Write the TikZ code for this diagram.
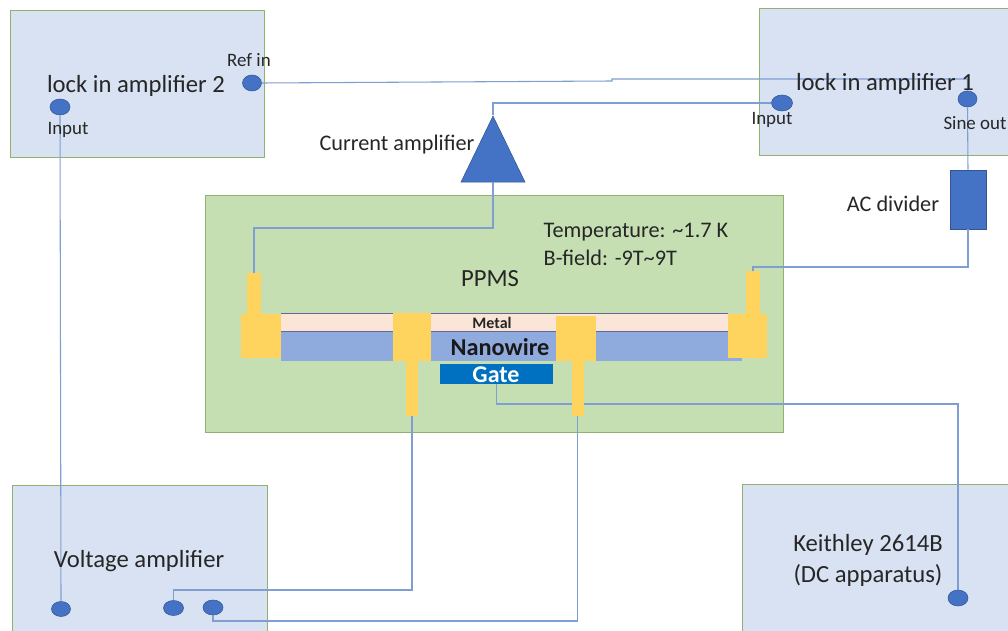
\documentclass[tikz,border=0pt]{standalone}
\usepackage{fontspec}
\setmainfont{Carlito}
\usetikzlibrary{shapes.geometric}
\definecolor{panelblue}{HTML}{D8E2F2}
\definecolor{panelline}{HTML}{8DB36F}
\definecolor{ppmsgreen}{HTML}{C5DFB3}
\definecolor{dotblue}{HTML}{4472C4}
\definecolor{wireblue}{HTML}{7F9FD2}
\definecolor{padyellow}{HTML}{FFD45E}
\definecolor{metalpink}{HTML}{FBE5D6}
\definecolor{barblue}{HTML}{8FAADC}
\definecolor{gateblue}{HTML}{0070C0}
\tikzset{
  panel/.style={draw=panelline,fill=panelblue,inner sep=0pt},
  dot/.style={ellipse,draw=dotblue!75!black,fill=dotblue,inner sep=0pt},
  wire/.style={draw=wireblue,line width=.8pt},
  pad/.style={fill=padyellow,inner sep=0pt},
  big/.style={font=\fontsize{18.5}{22}\selectfont,text=black!85},
  mid/.style={font=\fontsize{16.7}{20}\selectfont,text=black!85},
  tiny/.style={font=\fontsize{14.2}{17}\selectfont,text=black!85}
}
\begin{document}
\begin{tikzpicture}[x=.75pt,y=-.75pt]
      \clip (0,0) rectangle (1008,631);
      \fill[white] (0,0) rectangle (1008,631);

      % instruments
      \foreach \n/\x/\y/\w/\h in {lockb/137/83.5/254/147, locka/884.5/81.5/251/147,
                                  voltamp/139.5/562.5/255/155, keith/876/562/268/156}
      { \node[panel,minimum width=\w*.75pt,minimum height=\h*.75pt] (\n) at (\x,\y) {}; }

      % ppms
      \node[draw=panelline,fill=ppmsgreen,inner sep=0pt,minimum width=433.5pt,minimum height=177.75pt] (ppms) at (494,313.5) {};

      % ports
      \foreach \n/\x/\y/\w/\h in {refin/252/83/19/16, inb/60/107/20/16, ina/782/103/21/16, sine/967.5/99/19/16,
                                  involt/61/609/19/15, volta/173.5/608/20/15, voltb/213/607.5/20/15, keithin/958/598/20/16}
      { \node[dot,minimum width=\w*.75pt,minimum height=\h*.75pt] (\n) at (\x,\y) {}; }

      % amplifier and divider
      \node[isosceles triangle,isosceles triangle stretches,shape border rotate=90,draw=dotblue!75!black,fill=dotblue,inner sep=0pt,
            minimum height=49.5pt,minimum width=48pt] (curramp) at (493,162) {};
      \node[draw=dotblue!75!black,fill=dotblue,inner sep=0pt,minimum width=27pt,minimum height=44.25pt] (divider) at (968,199.5) {};

      % wire
      \node[fill=metalpink,inner sep=0pt,minimum width=335.25pt,minimum height=12.75pt] (metal) at (504.5,322.5) {};
      \draw[draw=gray!80!blue,thin] (metal.north west) to (metal.north east);
      \draw[draw=gray!80!blue,thin] (metal.south west) to (metal.south east);
      \node[fill=barblue,inner sep=0pt,minimum width=345.75pt,minimum height=21.75pt] (wirebar) at (511.5,346.5) {};
      \node[fill=gateblue,inner sep=0pt,minimum width=84.75pt,minimum height=15pt] (gate) at (496.5,374) {};

      % gate goes under the contact
      \path (700,404) coordinate (bendg);
      \draw[wire] (gate.south) |- (bendg) -| (keithin.north);

      % contacts
      \foreach \n/\x/\y/\w/\h in {stema/254/294/14/41, padleft/261/336/40/44, padb/412/337/38/48, stemb/412/388/12/55,
                                  padc/576/338.5/40/45, stemc/577.5/388.5/12/55, padright/747.5/336/39/44, stemd/753/292.5/14/43}
      { \node[pad,minimum width=\w*.75pt,minimum height=\h*.75pt] (\n) at (\x,\y) {}; }

      % connections
      \path (612,81) coordinate (refa); \path (612,79) coordinate (refb);
      \path (400,228) coordinate (benda); \path (850,267) coordinate (bendr);
      \path (300,590) coordinate (bendv); \path (400,621) coordinate (bendw);
      \draw[wire] (refin.east) to (refa) to (refb) -| (sine.north);
      \draw[wire] (ina.west) -| (curramp.apex);
      \draw[wire] (curramp.lower side) |- (benda) -| (stema.north);
      \draw[wire] (sine.south) to (divider.north);
      \draw[wire] (divider.south) |- (bendr) -| (stemd.north);
      \draw[wire] (inb.south) to (involt.north);
      \draw[wire] (stemb.south) |- (bendv) -| (volta.north);
      \draw[wire] (stemc.south) |- (bendw) -| (voltb.south);

      % labels
      \node[big] (lbllockb) at (136,86) {lock in amplifier 2};
      \node[big] (lbllocka) at (885,84) {lock in amplifier 1};
      \node[big] (lblvolt) at (139,561) {Voltage amplifier};
      \node[big] (lblkeith) at (868,545) {Keithley 2614B};
      \node[big] (lbldc) at (868,575) {(DC apparatus)};
      \node[mid] (lblcurr) at (397,145) {Current amplifier};
      \node[mid] (lblac) at (893,204) {AC divider};
      \node[big] (lblppms) at (490,279) {PPMS};
      \node[mid,anchor=west] (lbltemp) at (539,232) {Temperature: \textasciitilde 1.7 K};
      \node[mid,anchor=west] (lblfield) at (539,258) {B-field: -9T\textasciitilde 9T};
      \node[tiny] (lblref) at (249,60) {Ref in};
      \node[tiny] (lblinb) at (68,130) {Input};
      \node[tiny] (lblina) at (772,120) {Input};
      \node[tiny] (lblsine) at (975,123) {Sine out};
      \node[font=\fontsize{12}{14}\selectfont\bfseries,text=black!85] (lblmetal) at (492,323) {Metal};
      \node[font=\fontsize{18.2}{20}\selectfont\bfseries,text=black!90] (lblwire) at (500,347) {Nanowire};
      \node[font=\fontsize{18}{20}\selectfont\bfseries,text=white] (lblgate) at (496,375) {Gate};

    \end{tikzpicture}
\end{document}
